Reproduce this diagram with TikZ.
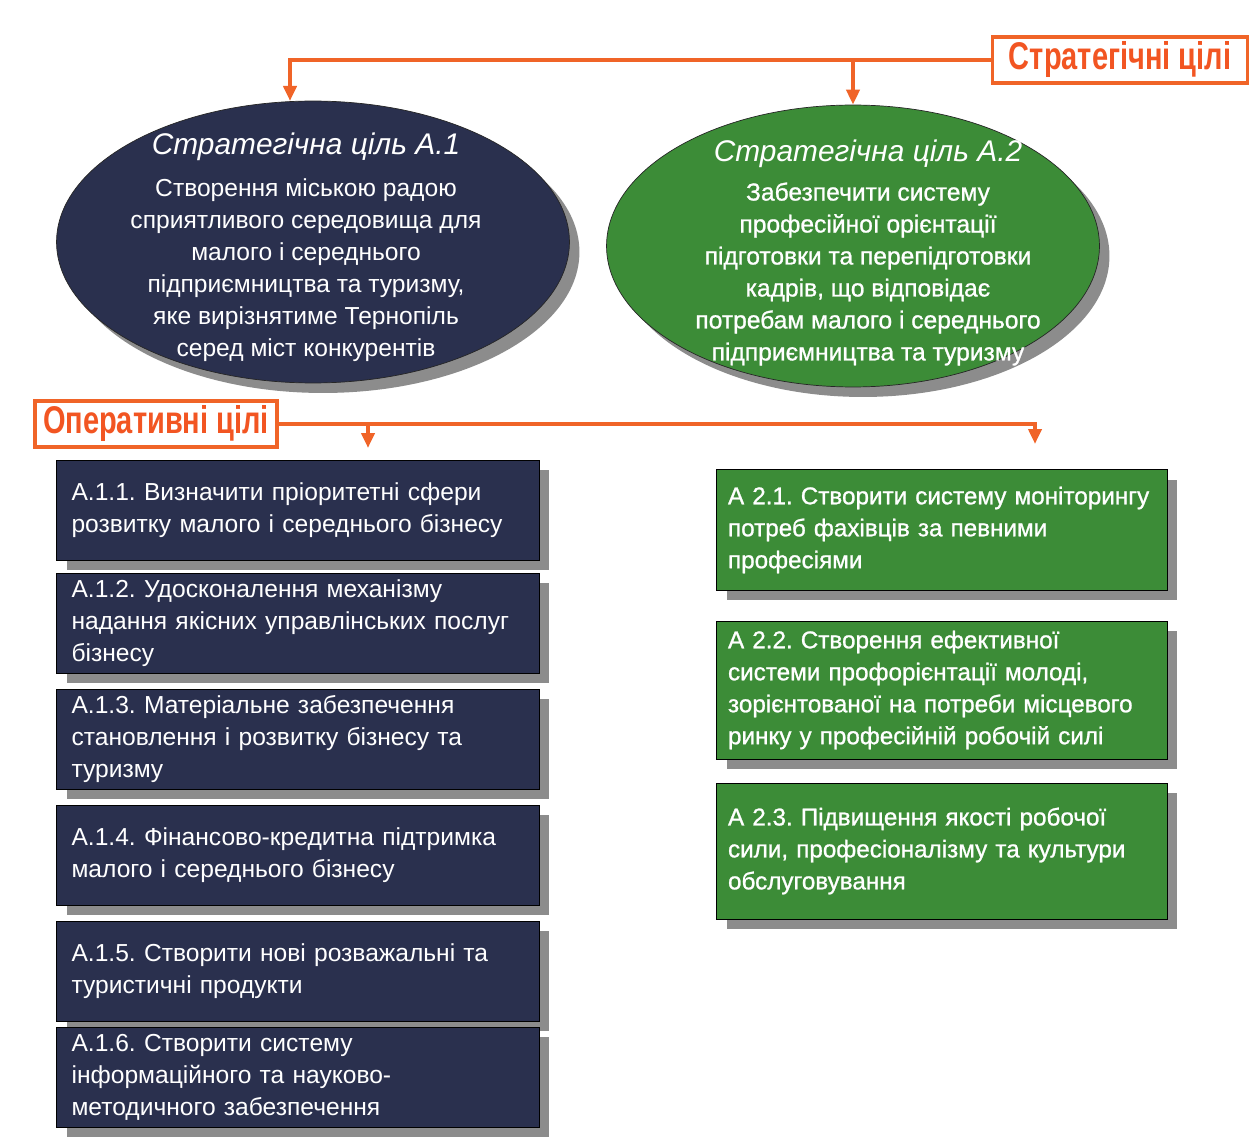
\documentclass[tikz,border=0pt]{standalone}
\usepackage{fontspec}
\setmainfont{Liberation Sans}
\newfontfamily\narrowfont[FakeStretch=0.75]{Liberation Sans}
\newfontfamily\heavyfont[FakeBold=1]{Liberation Sans}
\usetikzlibrary{shapes.geometric}
\usetikzlibrary{shadows}
\usetikzlibrary{arrows.meta}
\usepackage{xcolor}
\definecolor{navy}{HTML}{2A304E}
\definecolor{leaf}{HTML}{3C8C37}
\definecolor{rust}{HTML}{F06428}
\frenchspacing

\begin{document}
\begin{tikzpicture}[x=0.02cm, y=-0.02cm,
  shade/.style = {drop shadow={shadow xshift=0.2cm, shadow yshift=-0.2cm, fill=black!45, opacity=1}},
  oval/.style = {draw=black!85, ellipse, inner sep=0pt, minimum width=10.26cm, minimum height=5.64cm, shade},
  ovalhead/.style = {text=white, font=\itshape\fontsize{17}{21}\selectfont},
  ovalbody/.style = {text=white, align=center, font=\fontsize{14}{18.2}\selectfont},
  navybox/.style = {draw=black, fill=navy, text=white, shade, minimum width=9.66cm, minimum height=2cm, text width=9.06cm, inner xsep=0.3cm, align=left, font=\fontsize{14}{18.2}\selectfont},
  leafbox/.style = {draw=black, fill=leaf, text=white, shade, minimum width=9.02cm, text width=8.56cm, inner xsep=0.23cm, align=left, font=\heavyfont\fontsize{13.8}{18.2}\selectfont},
  tag/.style = {draw=rust, line width=1.9pt, fill=white, text=rust!85!red, minimum height=0.92cm, inner sep=2pt, font=\narrowfont\fontsize{22}{26}\selectfont\bfseries},
  link/.style = {draw=rust, line width=2.2pt, -{Triangle[length=0.3cm, width=0.26cm]}}]
  \fill[white] (0,0) rectangle (1258,1145);
  \useasboundingbox (0,0) rectangle (1258,1145);

  % strategic goals
  \node[tag, minimum width=5.1cm] (strat) at (1120,60) {Стратегічні цілі};
  \node[oval, fill=navy] (e1) at (313,242) {};
  \node[oval, fill=leaf, minimum width=9.86cm] (e2) at (853,246) {};
  \node[ovalhead] (e1h) at (306,147) {Стратегічна ціль А.1};
  \node[ovalbody] (e1b) at (306,270) {Створення міською радою\\сприятливого середовища для\\малого і середнього\\підприємництва та туризму,\\яке вирізнятиме Тернопіль\\серед міст конкурентів};
  \node[ovalhead] (e2h) at (868,154) {Стратегічна ціль А.2};
  \node[ovalbody, font=\heavyfont\fontsize{14}{18.2}\selectfont] (e2b) at (868,274) {Забезпечити систему\\професійної орієнтації\\підготовки та перепідготовки\\кадрів, що відповідає\\потребам малого і середнього\\підприємництва та туризму};
  \coordinate (t1) at (290,101);
  \draw[link] (strat.west) -| (t1);
  \draw[link] (strat.west) -| (e2.north);

  % operational goals
  \node[tag, minimum width=4.84cm] (oper) at (156,424) {Оперативні цілі};
  \node[navybox] (a11) at (298,510) {А.1.1. Визначити пріоритетні сфери\\розвитку малого і середнього бізнесу};
  \node[navybox] (a12) at (298,623) {А.1.2. Удосконалення механізму\\надання якісних управлінських послуг\\бізнесу};
  \node[navybox] (a13) at (298,739) {А.1.3. Матеріальне забезпечення\\становлення і розвитку бізнесу та\\туризму};
  \node[navybox] (a14) at (298,855) {А.1.4. Фінансово-кредитна підтримка\\малого і середнього бізнесу};
  \node[navybox] (a15) at (298,971) {А.1.5. Створити нові розважальні та\\туристичні продукти};
  \node[navybox] (a16) at (298,1077) {А.1.6. Створити систему\\інформаційного та науково-\\методичного забезпечення};
  \node[leafbox, minimum height=2.42cm] (a21) at (942,530) {А 2.1. Створити систему моніторингу\\потреб фахівців за певними\\професіями};
  \node[leafbox, minimum height=2.76cm] (a22) at (942,690) {А 2.2. Створення ефективної\\системи профорієнтації молоді,\\зорієнтованої на потреби місцевого\\ринку у професійній робочій силі};
  \node[leafbox, minimum height=2.72cm] (a23) at (942,851) {А 2.3. Підвищення якості робочої\\сили, професіоналізму та культури\\обслуговування};
  \coordinate (t3) at (368,448);
  \coordinate (t4) at (1035,444);
  \draw[link] (oper.east) -| (t3);
  \draw[link] (oper.east) -| (t4);
\end{tikzpicture}
\end{document}
